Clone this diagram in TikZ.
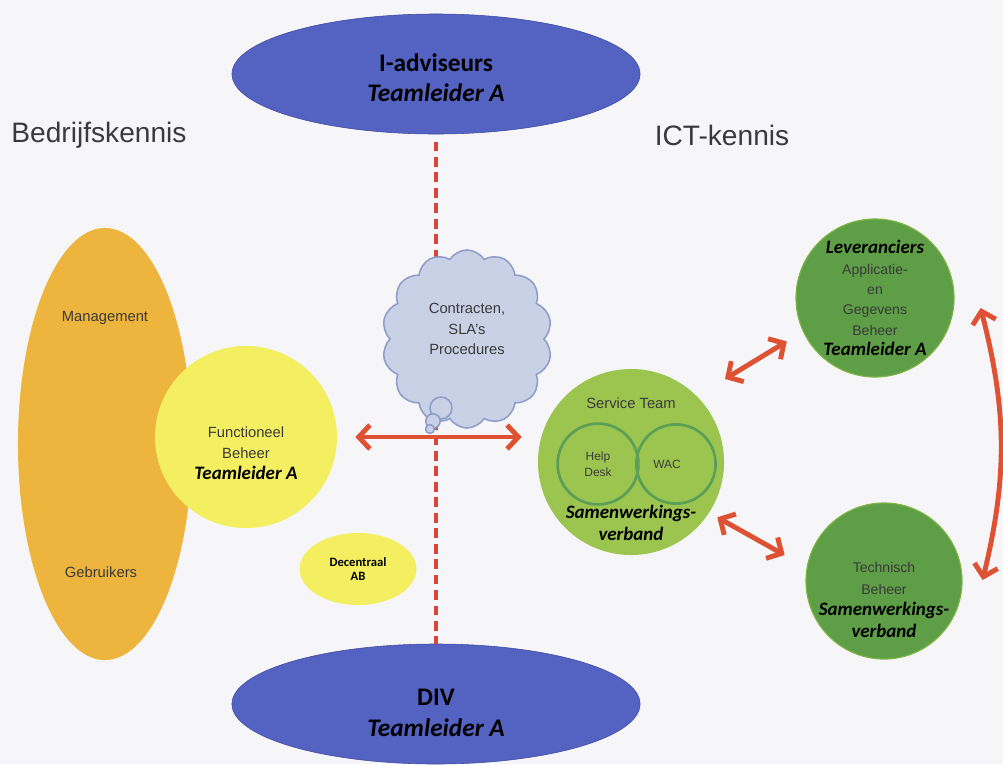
\documentclass[tikz,border=0pt]{standalone}
\usepackage{fontspec}
\setmainfont{Liberation Sans}
\newfontfamily\calibri{Carlito}
\usepackage{tikz}
\usetikzlibrary{positioning, arrows.meta, shapes.geometric, shapes.symbols}

\definecolor{bg}{HTML}{F6F6F8}
\definecolor{ovalblue}{HTML}{5462C2}
\definecolor{ovalline}{HTML}{3F4BA0}
\definecolor{orangefill}{HTML}{EDB43E}
\definecolor{yellowfill}{HTML}{F3EF60}
\definecolor{lightgreen}{HTML}{9CC54F}
\definecolor{darkgreen}{HTML}{5E9E46}
\definecolor{greenedge}{HTML}{80B543}
\definecolor{innergreen}{HTML}{5A9E58}
\definecolor{cloudfill}{HTML}{C9D1E6}
\definecolor{cloudline}{HTML}{8E9DC9}
\definecolor{arrowred}{HTML}{DE5133}
\definecolor{dashred}{HTML}{D9453B}
\definecolor{txtgray}{HTML}{3A3A3A}

\newcommand{\bi}[1]{{\calibri\bfseries\itshape\fontsize{13.5}{15}\selectfont\color{black}#1}}

\begin{document}
\begin{tikzpicture}[
  x=0.025cm, y=-0.025cm,
  team/.style={ellipse, draw=ovalline, fill=ovalblue, inner sep=0pt, minimum width=10.2cm, minimum height=3cm,
    align=center, font=\calibri\bfseries\fontsize{18}{21.5}\selectfont},
  blob/.style={circle, inner sep=0pt, align=center},
  tag/.style={inner sep=0pt, align=center, text=txtgray, font=\fontsize{10.5}{14.5}\selectfont},
  heading/.style={inner sep=0pt, text=txtgray, font=\fontsize{20}{24}\selectfont},
  puff/.style={circle, draw=cloudline, fill=cloudfill, line width=1.1pt, inner sep=0pt},
  arrow/.style={{Straight Barb[length=8pt,width=17pt]}-{Straight Barb[length=8pt,width=17pt]}, line width=3.5pt, draw=arrowred},
  dashline/.style={draw=dashred, line width=2.2pt, dash pattern=on 7pt off 4pt}
]
\useasboundingbox (0,0) rectangle (1003,764);
\fill[bg] (0,0) rectangle (1003,764);

% Nodes
\node[team] (iadv) at (436,74) {\rule{0pt}{0.62cm}I-adviseurs\\\textit{Teamleider A}};
\node[team] (div) at (436,704) {\rule{0pt}{0.85cm}DIV\\\textit{Teamleider A}};

\node[heading] (bedrijf) at (99,135) {Bedrijfskennis};
\node[heading] (ict) at (722,135) {ICT-kennis};

% dashed divider, behind the cloud
\draw[dashline, shorten <=0.18cm] (iadv.south) -- (div.north);

\node[ellipse, fill=orangefill, inner sep=0pt, minimum width=4.35cm, minimum height=10.8cm] (users) at (105,444) {};
\node[tag, font=\fontsize{10.5}{13}\selectfont] (mgmt) at (105,318) {Management};
\node[tag, font=\fontsize{10.5}{13}\selectfont] (gebr) at (101,572) {Gebruikers};

\node[blob, fill=yellowfill, minimum size=4.55cm] (fb) at (246,437) {};
\node[tag, font=\fontsize{10.5}{15}\selectfont] (fbtext) at (246,453) {Functioneel\\Beheer\\\bi{Teamleider A}};

\node[ellipse, fill=yellowfill, inner sep=0pt, minimum width=2.92cm, minimum height=1.8cm, align=center,
  font=\calibri\bfseries\fontsize{9}{10.5}\selectfont] (decab) at (358,569) {Decentraal\\AB};

\node[cloud, cloud puffs=14, cloud puff arc=115, cloud ignores aspect, draw=cloudline, fill=cloudfill, line width=1.1pt,
  minimum width=4.25cm, minimum height=4.45cm, inner sep=0pt, align=center, text=txtgray,
  font=\fontsize{10.5}{14.5}\selectfont] (sla) at (467,339) {Contracten,\\SLA's\\Procedures\rule[-0.5cm]{0pt}{0.5cm}};
\node[puff, minimum size=0.55cm] (puffa) at (441,408) {};
\node[puff, minimum size=0.36cm] (puffb) at (433,421) {};
\node[puff, minimum size=0.22cm] (puffc) at (430,429) {};

\node[blob, fill=lightgreen, minimum size=4.65cm] (st) at (631,462) {};
\node[tag] (stname) at (631,403) {Service Team};
\node[blob, draw=innergreen, line width=1.9pt, minimum size=2.02cm, text=txtgray,
  font=\fontsize{8.5}{11}\selectfont] (hd) at (598,464) {Help\\Desk};
\node[blob, draw=innergreen, line width=1.9pt, minimum size=1.98cm, text=txtgray,
  font=\fontsize{8.5}{11}\selectfont] (wac) at (676,464) {\hspace*{-0.45cm}WAC};
\node[tag, font=\fontsize{13.5}{15.6}\selectfont] (stsub) at (631,523) {\bi{Samenwerkings-}\\\bi{verband}};

\node[blob, fill=darkgreen, draw=greenedge, line width=0.8pt, minimum size=3.95cm, text=txtgray,
  font=\fontsize{10}{14.5}\selectfont] (lev) at (875,298)
  {\bi{Leveranciers}\\Applicatie-\\en\\Gegevens\\Beheer\\\bi{Teamleider A}};

\node[blob, fill=darkgreen, draw=greenedge, line width=0.8pt, minimum size=3.9cm] (tb) at (884,581) {};
\node[tag, font=\fontsize{10}{15.5}\selectfont] (tbtext) at (884,600) {Technisch\\Beheer\\\bi{Samenwerkings-}\\\bi{verband}};

% Arrows
\draw[arrow, shorten <=0.45cm, shorten >=0.4cm] (fb.east) -- (fb.east -| st.west);
\draw[arrow, shorten <=0.82cm, shorten >=0.47cm] (st.45) -- (lev.205);
\draw[arrow, shorten <=0.23cm, shorten >=0.63cm] (st.-33) -- (tb.170);
\draw[arrow] ([shift={(26,10)}]lev.east) to[bend left=14] ([shift={(20,-1)}]tb.east);

\end{tikzpicture}
\end{document}
